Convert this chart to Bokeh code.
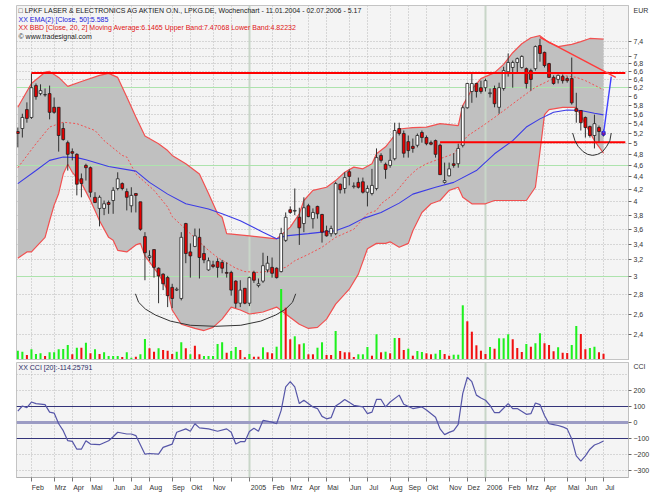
from bokeh.plotting import figure
from bokeh.layouts import column
from bokeh.models import Range1d, LinearScale, FixedTicker, Grid, Label
from bokeh.embed import file_html
from bokeh.resources import INLINE

# ---------------- data (weekly, first week ending 11.01.2004) ----------------
WEEKS = list(range(130))
OPEN = [5.24,5.30,5.70,5.53,6.25,6.06,6.03,6.06,5.75,5.75,
        5.30,5.02,4.85,4.80,4.37,4.60,4.56,4.07,3.90,3.90,
        3.99,4.02,4.21,4.29,4.16,3.94,4.13,4.00,3.50,3.23,
        3.33,3.10,3.03,2.99,2.88,2.85,2.76,3.68,3.30,3.37,
        3.49,3.28,3.08,3.14,3.18,3.17,3.05,3.05,2.95,2.71,
        2.87,2.71,3.05,2.90,2.95,3.08,3.11,3.10,3.06,3.45,
        3.88,3.86,3.77,3.68,3.94,3.75,3.93,3.81,3.58,3.54,
        3.54,4.28,4.21,4.49,4.24,4.31,4.32,4.15,4.13,4.21,
        4.78,4.62,4.60,4.72,5.30,5.20,5.04,4.95,4.97,5.22,
        5.12,5.02,5.06,4.97,4.31,4.42,4.63,4.63,4.97,5.74,
        6.11,6.30,6.20,6.20,6.06,6.18,5.75,6.18,6.59,6.70,
        6.83,6.70,6.67,6.62,6.67,7.29,7.10,6.80,6.45,6.40,
        6.47,6.42,6.42,5.72,5.68,5.53,5.34,5.16,5.32,5.24]
HIGH = [5.32,5.61,5.86,6.55,6.30,6.28,6.18,6.25,5.97,5.75,
        5.42,5.06,4.91,4.82,4.46,4.63,4.58,4.15,4.10,4.02,
        4.02,4.23,4.48,4.31,4.21,4.23,4.13,4.00,3.56,3.32,
        3.33,3.11,3.04,3.01,2.92,2.88,3.56,3.69,3.41,3.61,
        3.61,3.38,3.23,3.19,3.22,3.20,3.17,3.07,2.96,2.96,
        2.87,3.00,3.07,2.98,3.29,3.25,3.23,3.11,3.62,3.84,
        3.93,4.21,3.91,4.07,3.97,3.90,3.94,3.82,3.65,3.65,
        4.32,4.29,4.48,4.53,4.31,4.39,4.39,4.26,4.54,4.91,
        4.82,4.65,4.91,5.42,5.42,5.26,5.16,5.10,5.20,5.26,
        5.16,5.06,5.08,5.00,4.65,4.65,4.82,5.00,5.79,6.32,
        6.55,6.32,6.37,6.42,6.18,6.25,6.32,6.72,7.07,6.88,
        6.96,7.02,6.70,6.67,7.29,7.48,7.12,6.82,6.50,6.52,
        6.52,6.47,6.96,6.08,5.68,5.55,5.36,5.59,5.36,5.28]
LOW = [4.93,5.12,5.42,5.50,5.92,6.02,5.99,5.49,5.61,4.85,
       5.06,4.51,4.69,4.10,4.07,4.34,4.07,3.98,3.64,3.80,
       3.82,3.82,4.18,4.18,3.87,3.84,3.84,3.58,2.96,3.19,
       2.99,2.71,2.85,2.67,2.66,2.84,2.74,3.16,2.99,3.36,
       2.98,3.16,3.07,3.10,2.99,3.04,2.99,2.79,2.66,2.67,
       2.70,2.68,2.93,2.88,2.93,3.05,2.99,2.98,3.05,3.43,
       3.82,3.80,3.39,3.56,3.77,3.61,3.75,3.42,3.50,3.50,
       3.52,4.13,4.13,4.26,4.21,4.21,4.13,3.93,4.10,4.18,
       4.65,4.37,4.56,4.69,5.16,4.74,4.74,4.83,4.93,5.02,
       4.97,4.97,4.74,4.44,4.29,4.41,4.56,4.56,4.93,5.72,
       5.85,5.97,6.06,6.11,5.97,5.75,5.61,6.13,6.47,6.20,
       6.55,6.67,6.18,6.13,6.62,6.85,6.70,6.44,6.27,6.30,
       6.30,6.32,5.81,5.42,5.26,5.12,5.12,4.91,5.02,5.14]
CLOSE = [5.20,5.53,5.51,6.20,5.99,6.13,6.04,5.64,5.64,5.16,
         5.08,4.80,4.82,4.28,4.29,4.56,4.15,3.99,4.07,3.97,
         3.96,4.18,4.37,4.21,4.07,4.10,4.10,3.60,3.29,3.25,
         3.11,3.01,2.92,2.79,2.76,2.86,3.49,3.28,3.25,3.51,
         3.23,3.20,3.19,3.12,3.11,3.10,3.04,2.85,2.71,2.85,
         2.71,2.99,2.96,2.92,3.13,3.16,3.04,2.99,3.54,3.77,
         3.84,3.87,3.62,3.91,3.78,3.84,3.82,3.56,3.51,3.61,
         4.29,4.19,4.39,4.41,4.25,4.23,4.15,4.21,4.26,4.74,
         4.69,4.53,4.69,5.26,5.20,4.82,4.87,4.91,5.16,5.12,
         5.00,4.99,4.80,4.44,4.34,4.54,4.60,4.91,5.74,6.30,
         6.30,6.11,6.11,6.37,6.08,5.83,6.20,6.62,6.83,6.83,
         6.93,6.99,6.30,6.40,7.26,7.07,6.75,6.45,6.30,6.50,
         6.37,6.37,5.85,5.66,5.42,5.32,5.16,5.40,5.24,5.17]
VOLUME = [83,73,40,97,50,57,30,67,67,97,
          100,140,47,113,113,163,57,97,50,67,
          30,30,30,20,67,13,23,47,200,107,
          73,107,90,83,50,73,167,107,47,133,
          47,30,30,30,150,167,63,80,120,90,
          17,50,23,23,117,67,57,123,700,513,
          197,227,147,157,47,47,113,167,40,40,
          280,80,67,67,20,47,47,120,33,247,
          67,73,57,210,210,90,103,33,80,70,
          57,47,53,90,50,33,43,43,537,377,
          273,137,83,50,120,103,207,207,247,197,
          110,70,150,123,157,257,157,140,77,117,
          63,60,140,330,250,97,110,123,67,53]
VOL_UP = [1,1,0,1,1,1,0,1,1,1, 1,1,0,1,0,1,0,1,0,1, 1,1,1,0,1,1,0,1,1,0,
          0,1,0,0,0,1,1,0,1,0, 0,1,1,1,1,1,0,1,1,0, 0,1,0,0,1,0,0,1,1,0,
          0,1,0,1,0,0,1,1,0,0, 1,0,0,0,0,1,1,1,0,1, 0,1,0,1,0,0,1,0,1,1,
          0,0,1,1,0,0,1,1,1,0, 0,0,0,0,1,0,1,1,1,0, 0,0,1,0,1,1,0,0,0,1,
          0,0,1,1,0,0,1,1,0,0]

# Bollinger bands (20, 2) and EMA(50), read at these weeks
U_IDX = [0,3,6,7,9,11,14,18,20,22,24,26,28,31,33,34,37,40,42,44,45,46,51,54,57,60,62,63,65,68,
         70,72,74,76,78,79,81,83,84,87,90,93,97,98,100,102,105,107,109,111,113,115,117,119,122,124,126,129]
U_VAL = [5.75,6.30,6.58,6.60,6.45,6.23,6.35,6.50,6.55,6.45,5.98,5.54,5.15,5.00,4.87,4.78,4.63,4.45,4.13,3.82,
         3.77,3.54,3.51,3.49,3.47,3.63,3.82,4.02,4.18,4.23,4.34,4.48,4.57,4.54,4.63,4.81,4.94,5.16,5.29,5.32,
         5.33,5.40,5.36,5.79,6.16,6.42,6.57,6.78,7.09,7.34,7.51,7.57,7.37,7.26,7.32,7.40,7.49,7.47]
L_IDX = [0,2,3,6,7,8,9,10,11,12,14,15,16,17,18,20,21,22,24,26,27,28,31,33,34,36,39,41,43,45,
         47,49,51,54,57,59,62,64,66,68,70,73,75,77,79,81,82,84,86,87,89,91,93,95,97,98,100,103,105,109,
         112,114,115,116,117,120,123,125,127,129]
L_VAL = [3.22,3.30,3.30,3.49,3.72,3.95,4.13,4.45,4.62,4.48,4.30,4.16,4.02,3.87,3.72,3.49,3.45,3.32,3.30,3.39,
         3.41,3.25,3.03,2.85,2.64,2.50,2.46,2.44,2.47,2.55,2.67,2.64,2.60,2.62,2.67,2.60,2.50,2.46,2.47,2.55,
         2.70,2.86,3.03,3.34,3.41,3.41,3.43,3.36,3.41,3.58,3.84,3.97,4.02,4.18,4.23,4.07,3.97,3.97,4.02,4.02,
         4.02,4.23,4.85,5.59,5.70,5.75,5.75,5.39,5.06,4.82]
M_IDX = [0,4,7,10,13,17,19,23,24,26,30,33,34,38,42,44,48,50,53,56,59,61,64,67,70,74,77,79,80,83,
         86,88,90,93,96,99,102,105,108,111,114,117,120,123,125,129]
M_VAL = [4.56,5.00,5.33,5.43,5.40,5.26,5.06,4.78,4.75,4.45,4.18,3.92,3.78,3.54,3.32,3.23,3.10,3.06,3.05,3.07,
         3.11,3.19,3.27,3.36,3.49,3.60,3.82,3.87,3.97,4.13,4.40,4.54,4.63,4.72,4.81,5.15,5.33,5.53,5.75,5.98,
         6.21,6.37,6.50,6.45,6.37,6.15]
E_IDX = [0,4,7,10,13,15,20,26,29,33,37,42,45,49,54,57,59,64,67,70,73,76,80,84,87,92,96,101,105,109,
         112,115,118,121,124,127,129]
E_VAL = [4.29,4.51,4.69,4.75,4.74,4.70,4.58,4.50,4.31,4.12,3.97,3.89,3.82,3.72,3.56,3.47,3.51,3.54,3.56,3.58,
         3.65,3.75,3.84,3.98,4.12,4.23,4.31,4.51,4.81,5.06,5.33,5.50,5.64,5.69,5.68,5.62,5.585]

# CCI(20)
C_IDX = [0,1,2,3,4,6,7,8,9,10,11,12,13,14,15,16,18,20,21,22,24,25,26,28,29,31,32,34,35,37,
         38,39,40,42,44,46,47,48,49,50,51,52,53,54,56,57,58,59,60,61,62,63,65,66,67,68,69,70,71,72,
         74,76,77,78,79,80,81,82,84,85,87,89,90,92,93,94,95,96,97,98,99,100,101,102,103,104,105,106,108,109,
         110,112,113,114,115,116,117,118,119,120,121,122,123,124,125,126,127,128,129]
C_VAL = [73,105,95,130,120,114,67,61,-6,-49,-112,-116,-165,-165,-112,-133,-137,-112,-87,-59,
         -70,-70,-80,-196,-192,-196,-154,-133,-59,-38,-53,-6,-32,-38,-53,-38,-59,-133,-118,-118,
         -55,-34,-53,15,4,-6,78,225,257,225,120,141,99,89,40,25,32,105,124,146,
         109,99,57,67,146,146,99,130,173,116,89,99,80,35,-38,-74,-60,-49,-10,184,
         285,257,173,155,141,109,63,63,120,89,89,53,57,124,114,46,-6,-11,-17,-25,
         -38,-101,-207,-239,-207,-165,-139,-128,-114.26]
CCI_LEVELS = [100, -100]
CCI_ZERO = [0]
CCI_TICKS = [-300, -200, -100, 0, 100, 200]
CCI_GRID = [-300, -200, -100, 0, 100, 200, 300]

# user drawings on the chart
HLINE_PRICE = [6.56, 5.03]
HLINE_START = [3, 93]
HLINE_END = [133.8, 133.8]
TREND_X = [115, 131.7]
TREND_Y = [7.52, 6.45]
PROJ_X = [129, 130.7]
PROJ_Y = [5.20, 6.47]
ARC1_X = [25.9, 26.6, 28.1, 30.3, 33.6, 38.0, 43.5, 49.1, 53.5, 56.8, 59.0, 60.5, 61.2]
ARC1_Y = [2.81, 2.72, 2.65, 2.59, 2.53, 2.49, 2.48, 2.49, 2.53, 2.59, 2.65, 2.72, 2.81]
ARC2_X = [122.2, 122.7, 123.4, 124.5, 125.5, 126.6, 127.7, 128.8, 129.7, 130.4, 130.7]
ARC2_Y = [5.21, 5.06, 4.95, 4.85, 4.80, 4.78, 4.80, 4.85, 4.95, 5.06, 5.21]

# axes
PRICE_TICKS = [2.4,2.6,2.8,3,3.2,3.4,3.6,3.8,4,4.2,4.4,4.6,4.8,5,5.2,5.4,5.6,5.8,6,6.2,6.4,6.6,6.8,7,7.4]
PRICE_GRID = PRICE_TICKS + [7.2]
PRICE_UNIT = ("EUR", 8.33)      # unit caption placed at the top of the price scale
CCI_UNIT = ("CCI", 352)         # caption placed at the top of the CCI scale
GREEN_LEVELS = [3.0, 4.6, 6.2]
YEAR_IDX = [51, 103]
MONTH_IDX = [3,8,12,16,21,25,29,34,38,43,47,51,56,60,64,68,73,77,82,86,90,95,99,103,108,112,116,121,125,129]
MONTH_LAB = ["Feb","Mrz","Apr","Mai","Jun","Jul","Aug","Sep","Okt","Nov","","2005",
             "Feb","Mrz","Apr","Mai","Jun","Jul","Aug","Sep","Okt","Nov","Dez","2006",
             "Feb","Mrz","Apr","Mai","Jun","Jul"]

HEADER = [("\u25a1 LPKF LASER & ELECTRONICS AG AKTIEN O.N., LPKG.DE, Wochenchart - 11.01.2004 - 02.07.2006 - 5.17", "#1a1a1a"),
          ("XX EMA(2) [Close, 50]:5.585", "#2323d8"),
          ("XX BBD [Close, 20, 2] Moving Average:6.1465 Upper Band:7.47068 Lower Band:4.82232", "#e01414"),
          ("\u00a9 www.tradesignal.com", "#1a1a1a")]
CCI_HEADER = "XX CCI [20]:-114.25791"

# ---------------- layout ----------------
FONT = "Liberation Sans"
FS = "7px"
FW, FH1, FH2 = 612, 355, 115
XR = Range1d(-0.29, 134.5)
GRIDC = "#b8b8b8"


def base_fig(**kw):
    p = figure(frame_width=FW, x_range=XR, output_backend="svg", toolbar_location=None,
               min_border_left=16, min_border_right=38, background_fill_color="#f4f4f4",
               border_fill_color="white", outline_line_color="#c4c4c4",
               y_axis_location="right", **kw)
    p.xgrid.visible = False
    p.ygrid.visible = False
    p.add_layout(Grid(dimension=0, ticker=FixedTicker(ticks=[], minor_ticks=MONTH_IDX),
                      grid_line_color=None, minor_grid_line_color=GRIDC,
                      minor_grid_line_dash="1 2"))
    ax = p.yaxis[0]
    ax.axis_line_color = "#c0c0c0"
    ax.major_tick_out = 3
    ax.major_tick_in = 0
    ax.major_tick_line_color = None
    ax.minor_tick_out = 3
    ax.minor_tick_in = 0
    ax.minor_tick_line_color = "#666666"
    ax.major_label_standoff = 2
    ax.major_label_text_font = FONT
    ax.major_label_text_font_size = FS
    ax.major_label_text_color = "#333333"
    return p


# ---------------- price panel ----------------
p1 = base_fig(frame_height=FH1, y_range=Range1d(2.175, 8.5), y_axis_type="log",
              x_axis_location=None, min_border_top=5, min_border_bottom=0)
p1.extra_y_ranges = {"vol": Range1d(-15, 3535)}
p1.extra_y_scales = {"vol": LinearScale()}
p1.add_layout(Grid(dimension=1, ticker=FixedTicker(ticks=PRICE_GRID),
                   grid_line_color=GRIDC, grid_line_dash="1 2"))
p1.yaxis.ticker = FixedTicker(ticks=PRICE_TICKS + [PRICE_UNIT[1]], minor_ticks=PRICE_TICKS)
ov = {t: (f"{t:g}").replace(".", ",") for t in PRICE_TICKS}
ov[PRICE_UNIT[1]] = PRICE_UNIT[0]
p1.yaxis.major_label_overrides = ov

# bollinger band area
p1.patch(x=U_IDX + L_IDX[::-1], y=U_VAL + L_VAL[::-1], fill_color="#c0c0c0", line_color=None)
p1.vspan(x=YEAR_IDX, line_color="#c8d6c8", line_width=2)
p1.hspan(y=GREEN_LEVELS, line_color="#ade3ad", line_width=1)
p1.line(U_IDX, U_VAL, line_color="#f25050", line_width=1.2)
p1.line(L_IDX, L_VAL, line_color="#f25050", line_width=1.2)
p1.line(M_IDX, M_VAL, line_color="#f25050", line_width=1, line_dash="2 2")
p1.line(E_IDX, E_VAL, line_color="#3b3be6", line_width=1.1)

# volume
vol_col = ["#1ef01e" if u else "#f01010" for u in VOL_UP]
p1.vbar(x=WEEKS, top=VOLUME, bottom=0, width=0.45, fill_color=vol_col, line_color=None,
        y_range_name="vol")

# candles
body_top = [max(o, c) for o, c in zip(OPEN, CLOSE)]
body_bot = [min(o, c) for o, c in zip(OPEN, CLOSE)]
body_col = ["#ffffff" if c >= o else "#e60000" for o, c in zip(OPEN, CLOSE)]
p1.segment(x0=WEEKS, y0=LOW, x1=WEEKS, y1=HIGH, line_color="#303030", line_width=1)
p1.vbar(x=WEEKS, top=body_top, bottom=body_bot, width=0.62, fill_color=body_col,
        line_color="#202020", line_width=0.8)
p1.vbar(x=WEEKS[-1:], top=body_top[-1:], bottom=body_bot[-1:], width=0.62,
        fill_color=body_col[-1:], line_color="#2020ff", line_width=1)

# drawings
p1.segment(x0=HLINE_START, y0=HLINE_PRICE, x1=HLINE_END, y1=HLINE_PRICE,
           line_color="#ff0000", line_width=2)
p1.line(TREND_X, TREND_Y, line_color="#ff3a3a", line_width=1.4)
p1.line(PROJ_X, PROJ_Y, line_color="#4040ff", line_width=1.4)
p1.line(ARC1_X, ARC1_Y, line_color="#333333", line_width=1)
p1.line(ARC2_X, ARC2_Y, line_color="#333333", line_width=1)

for k, (txt, col) in enumerate(HEADER):
    p1.add_layout(Label(x=2, y=FH1 - 5 - 8.5 * k, x_units="screen", y_units="screen",
                        text=txt, text_color=col, text_font=FONT, text_font_size=FS,
                        text_baseline="middle"))

# ---------------- CCI panel ----------------
p2 = base_fig(frame_height=FH2, y_range=Range1d(-342, 377), min_border_top=2,
              min_border_bottom=22)
p2.add_layout(Grid(dimension=1, ticker=FixedTicker(ticks=CCI_GRID),
                   grid_line_color=GRIDC, grid_line_dash="1 2"))
p2.yaxis.ticker = FixedTicker(ticks=CCI_TICKS + [CCI_UNIT[1]], minor_ticks=CCI_TICKS)
p2.yaxis.major_label_overrides = {CCI_UNIT[1]: CCI_UNIT[0]}
p2.vspan(x=YEAR_IDX, line_color="#c8d6c8", line_width=2)
p2.hspan(y=CCI_ZERO, line_color="#9c9cc4", line_width=3)
p2.hspan(y=CCI_LEVELS, line_color="#34347a", line_width=1)
p2.line(C_IDX, C_VAL, line_color="#5656a8", line_width=1.2)
p2.add_layout(Label(x=2, y=FH2 - 5, x_units="screen", y_units="screen", text=CCI_HEADER,
                    text_color="#2a2a66", text_font=FONT, text_font_size=FS,
                    text_baseline="middle"))

label_pos = [round(m + (2.0 if lab.isdigit() else 1.4), 2) for m, lab in zip(MONTH_IDX, MONTH_LAB) if lab]
label_txt = [lab for lab in MONTH_LAB if lab]
xa = p2.xaxis[0]
xa.ticker = FixedTicker(ticks=label_pos, minor_ticks=MONTH_IDX)
xa.major_label_overrides = {pos: txt for pos, txt in zip(label_pos, label_txt)}
xa.major_tick_line_color = None
xa.major_tick_out = 4
xa.minor_tick_out = 4
xa.minor_tick_in = 0
xa.minor_tick_line_color = "#777777"
xa.axis_line_color = "#b0b0b0"
xa.major_label_standoff = 2
xa.major_label_text_font = FONT
xa.major_label_text_font_size = FS
xa.major_label_text_color = "#333333"

layout = column(p1, p2)
open("out.html", "w").write(file_html(layout, INLINE, title="LPKF Wochenchart"))
